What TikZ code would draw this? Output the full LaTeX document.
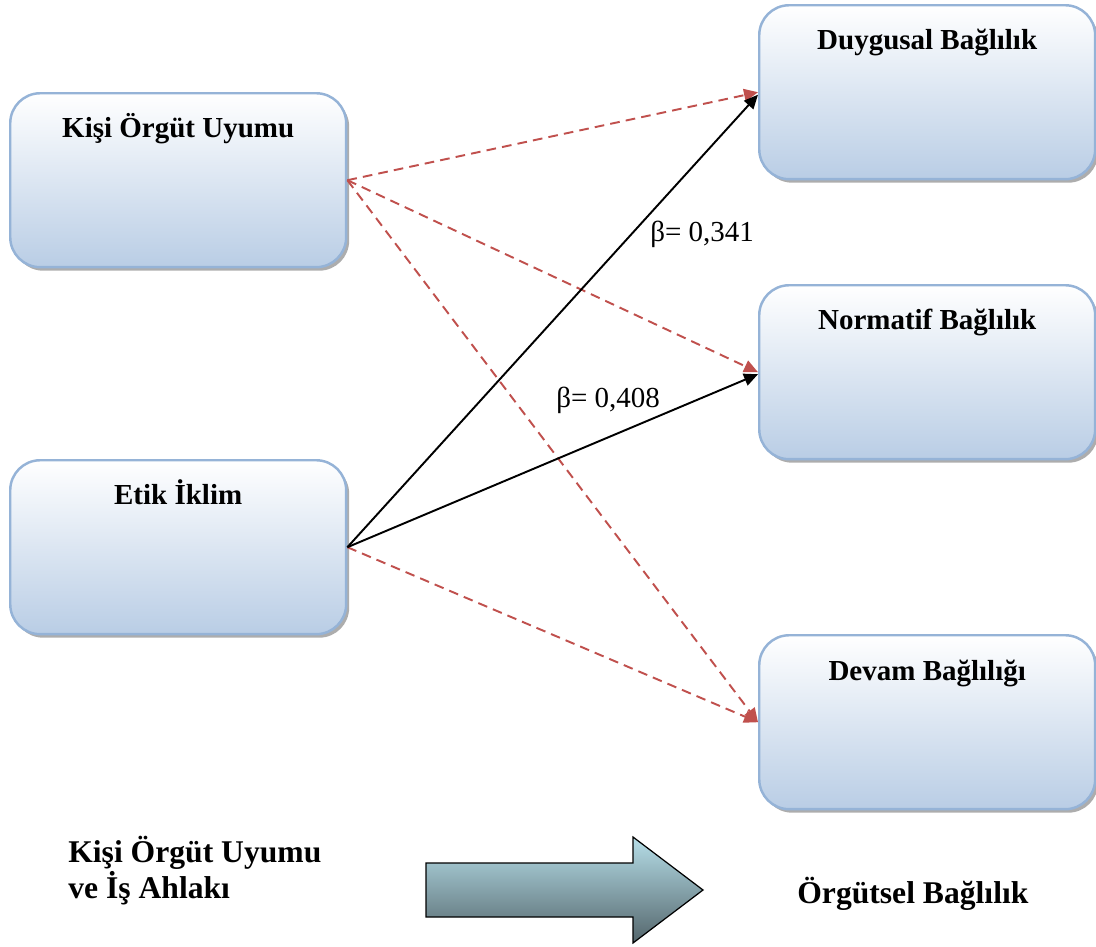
\documentclass[tikz,border=0pt]{standalone}
\usepackage{fontspec}
\setmainfont{Liberation Serif}
\usetikzlibrary{arrows.meta,positioning,calc,shadows}
\definecolor{boxline}{RGB}{149,179,215}
\definecolor{boxfill}{RGB}{185,205,229}
\definecolor{dashred}{RGB}{192,80,77}
\definecolor{arrtop}{RGB}{182,222,232}
\definecolor{arrbot}{RGB}{84,102,108}

\begin{document}
\begin{tikzpicture}[
  x=0.02cm, y=-0.02cm,
  font=\fontsize{16.5}{19}\selectfont,
  box/.style={draw=boxline, line width=1.4pt, rounded corners=0.6cm, top color=white, bottom color=boxfill,
    minimum width=6.72cm, minimum height=3.48cm, inner sep=0pt,
    drop shadow={shadow xshift=0.06cm, shadow yshift=-0.07cm, fill=black!40, opacity=0.8}},
  title/.style={anchor=base, font=\fontsize{16.5}{19}\selectfont\bfseries},
  plain/.style={anchor=base west, align=left, inner sep=0pt, font=\fontsize{18}{18.7}\selectfont\bfseries},
  beta/.style={anchor=base west, inner sep=0pt},
  dashlink/.style={draw=dashred, line width=1.1pt, dash pattern=on 5.5pt off 3.5pt, -{Triangle[length=2.8mm,width=2.5mm,fill=dashred]}},
  solidlink/.style={draw=black, line width=1.1pt, -{Triangle[length=2.8mm,width=2.5mm]}}
]
\useasboundingbox (0,0) rectangle (1096,947);

% Left boxes
\node[box, anchor=north west] (kou) at (9,92) {};
\node[box, anchor=north west] (etik) at (9,459) {};

% Right boxes
\node[box, anchor=north west] (duyg) at (758,4) {};
\node[box, anchor=north west] (norm) at (758,284) {};
\node[box, anchor=north west] (devam) at (758,634) {};

% Titles
\node[title] (tkou) at ([yshift=-0.92cm]kou.north) {Kişi Örgüt Uyumu};
\node[title] (tetik) at ([yshift=-0.92cm]etik.north) {Etik İklim};
\node[title] (tduyg) at ([yshift=-0.92cm]duyg.north) {Duygusal Bağlılık};
\node[title] (tnorm) at ([yshift=-0.92cm]norm.north) {Normatif Bağlılık};
\node[title] (tdevam) at ([yshift=-0.92cm]devam.north) {Devam Bağlılığı};

% Links
\draw[dashlink] (kou.east) -- (duyg.west);
\draw[dashlink] (kou.east) -- (norm.west);
\draw[dashlink] (kou.east) -- (devam.west);
\draw[dashlink] (etik.east) -- (devam.west);
\draw[solidlink] (etik.east) -- ([yshift=-0.05cm]duyg.west);
\draw[solidlink] (etik.east) -- ([yshift=-0.04cm]norm.west);

% Coefficients
\node[beta] (b1) at (650,241) {β= 0,341};
\node[beta] (b2) at (556,407) {β= 0,408};

% Bottom legend
\node[plain] (lsrc) at (68,898) {Kişi Örgüt Uyumu\\ve İş Ahlakı};
\node[plain] (ldst) at (797,903) {Örgütsel Bağlılık};
\draw[black, line width=0.7pt, top color=arrtop, bottom color=arrbot]
  (426,863) -- (633,863) -- (633,837) -- (703,890) -- (633,943) -- (633,917) -- (426,917) -- cycle;

\end{tikzpicture}
\end{document}
